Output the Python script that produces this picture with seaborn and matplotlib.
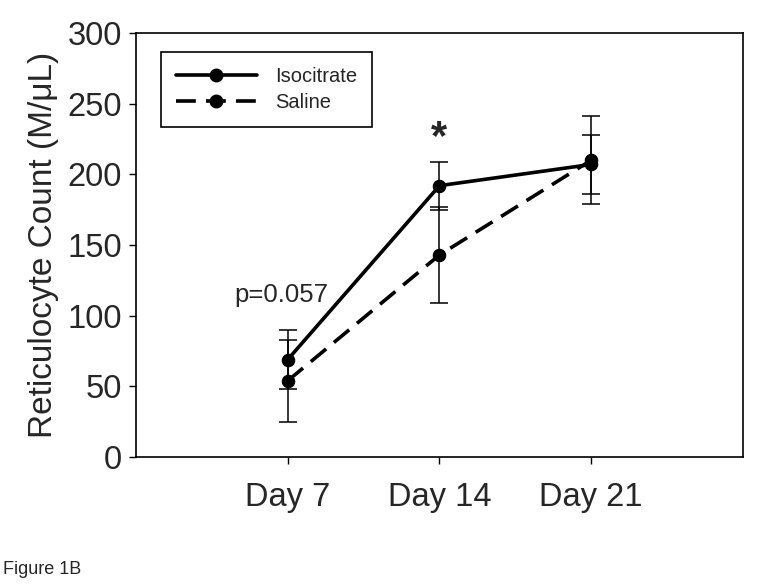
import numpy as np
import pandas as pd
import matplotlib
matplotlib.use("Agg")
import matplotlib.pyplot as plt
import seaborn as sns
from matplotlib.lines import Line2D

days = ["Day 7", "Day 14", "Day 21"]
isocitrate = [69, 192, 207]
isocitrate_err = [21, 17, 21]
saline = [54, 143, 210]
saline_err = [29, 34, 31]

sns.set_style("ticks")
plt.rcParams["font.family"] = ["Liberation Sans", "DejaVu Sans"]

pos = np.arange(1, len(days) + 1)
df = pd.DataFrame({
    "pos": np.concatenate([pos, pos]),
    "count": isocitrate + saline,
    "group": ["Isocitrate"] * len(days) + ["Saline"] * len(days),
})

fig = plt.figure(figsize=(7.62, 5.86), dpi=100)
ax = fig.add_axes([0.1785, 0.22, 0.7965, 0.7237])

# error bars first so lines sit on top
ax.errorbar(pos, isocitrate, yerr=isocitrate_err, fmt="none", ecolor="black",
            elinewidth=1.1, capsize=6.5, capthick=1.1, zorder=2)
ax.errorbar(pos, saline, yerr=saline_err, fmt="none", ecolor="black",
            elinewidth=1.1, capsize=6.5, capthick=1.1, zorder=2)

sns.lineplot(data=df, x="pos", y="count", style="group",
             dashes={"Isocitrate": "", "Saline": (5.5, 2.8)},
             markers={"Isocitrate": "o", "Saline": "o"},
             color="black", linewidth=2.6, markersize=9,
             markeredgecolor="black", legend=False, ax=ax, zorder=3)

ax.set_xlim(0, 4)
ax.set_ylim(0, 300)
ax.set_xticks(pos)
ax.set_xticklabels(days)
ax.set_yticks(np.arange(0, 301, 50))
ax.set_xlabel("")
ax.set_ylabel("Reticulocyte Count (M/\u03bcL)", fontsize=24, labelpad=6)
ax.tick_params(axis="both", labelsize=23.5, length=5, width=1, direction="out",
               color="black", pad=5)
ax.tick_params(axis="x", pad=13)
for sp in ax.spines.values():
    sp.set_visible(True)
    sp.set_color("black")
    sp.set_linewidth(1.2)

handles = [
    Line2D([], [], color="black", linewidth=2.6, marker="o", markersize=9),
    Line2D([], [], color="black", linewidth=2.6, linestyle=(0, (5.5, 2.8)),
           marker="o", markersize=9),
]
leg = ax.legend(handles, ["Isocitrate", "Saline"], loc="upper left",
                bbox_to_anchor=(0.041, 0.955), borderaxespad=0, fontsize=14.5,
                handlelength=4.0, fancybox=False, edgecolor="black",
                framealpha=1, borderpad=0.75, labelspacing=0.35, handletextpad=0.9)
leg.get_frame().set_linewidth(1.2)

ax.text(0.96, 115, "p=0.057", fontsize=18.5, ha="center", va="center")
ax.text(2.0, 226, "*", fontsize=30, fontweight="bold", ha="center", va="center")

fig.text(0.004, 0.029, "Figure 1B", fontsize=13, ha="left", va="center")

fig.savefig("out.png", dpi=100)
